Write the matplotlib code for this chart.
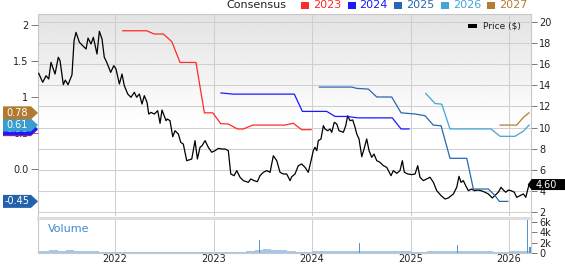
import numpy as np
import matplotlib
matplotlib.use('Agg')
import matplotlib.pyplot as plt
from matplotlib.patches import Polygon, Rectangle
from matplotlib.transforms import IdentityTransform

plt.rcParams['font.family'] = 'DejaVu Sans'

# ---- data (dates as decimal years) ----
price_t = [2021.225, 2021.266, 2021.30, 2021.327, 2021.35, 2021.391, 2021.424, 2021.442, 2021.475, 2021.495,
           2021.523, 2021.563, 2021.584, 2021.604, 2021.638, 2021.672, 2021.706, 2021.726, 2021.756, 2021.78,
           2021.817, 2021.841, 2021.868, 2021.891, 2021.916, 2021.956, 2021.987,
           2022.01, 2022.044, 2022.071, 2022.094, 2022.129, 2022.162, 2022.196, 2022.22, 2022.247, 2022.274,
           2022.297, 2022.325, 2022.342, 2022.365, 2022.399, 2022.433, 2022.457, 2022.477, 2022.518, 2022.531,
           2022.558, 2022.586, 2022.609, 2022.643, 2022.667, 2022.693, 2022.728, 2022.779, 2022.812, 2022.836,
           2022.863, 2022.883, 2022.914, 2022.947, 2022.982,
           2023.015, 2023.049, 2023.083, 2023.117, 2023.15, 2023.175, 2023.208, 2023.236, 2023.269, 2023.303,
           2023.353, 2023.378, 2023.411, 2023.445, 2023.472, 2023.506, 2023.54, 2023.574, 2023.607, 2023.642,
           2023.675, 2023.709, 2023.743, 2023.777, 2023.794, 2023.827, 2023.861, 2023.895, 2023.929, 2023.962,
           2023.99,
           2024.013, 2024.03, 2024.048, 2024.064, 2024.091, 2024.115, 2024.132, 2024.159, 2024.183, 2024.2,
           2024.226, 2024.251, 2024.274, 2024.318, 2024.342, 2024.362, 2024.386, 2024.413, 2024.437, 2024.454,
           2024.477, 2024.505, 2024.528, 2024.555, 2024.579, 2024.606, 2024.629, 2024.657, 2024.69, 2024.724,
           2024.758, 2024.802, 2024.825, 2024.86, 2024.893, 2024.917, 2024.937, 2024.972,
           2025.012, 2025.046, 2025.073, 2025.096, 2025.13, 2025.165, 2025.198, 2025.232, 2025.266, 2025.31,
           2025.35, 2025.384, 2025.435, 2025.469, 2025.492, 2025.513, 2025.536, 2025.56, 2025.587, 2025.621,
           2025.648, 2025.682, 2025.716, 2025.756, 2025.79, 2025.83, 2025.865, 2025.891, 2025.919, 2025.942,
           2025.967, 2025.993,
           2026.02, 2026.054, 2026.078, 2026.112, 2026.146, 2026.17, 2026.203]
price_v = [15.14, 14.29, 14.91, 14.6, 16.18, 15.07, 16.66, 16.33, 14.06, 14.5,
           14.06, 15.0, 18.23, 19.02, 18.08, 17.76, 17.44, 18.48, 17.92, 18.55,
           16.97, 19.12, 18.39, 16.66, 16.18, 15.23, 15.86,
           15.55, 14.13, 15.07, 13.97, 13.18, 12.87, 13.34, 12.87, 13.18, 12.23,
           13.02, 12.39, 11.28, 11.44, 11.28, 11.6, 10.4, 11.66, 10.65, 10.81,
           10.65, 9.13, 9.7, 9.39, 8.6, 8.44, 6.86, 7.02, 8.76, 7.02,
           8.13, 8.28, 8.76, 8.13, 7.66,
           7.81, 8.03, 7.97, 7.97, 7.81, 5.6, 5.44, 5.92, 5.29, 4.97,
           4.81, 5.13, 4.97, 4.87, 5.44, 5.76, 5.92, 5.76, 7.33, 6.86,
           5.76, 5.6, 5.6, 4.97, 5.34, 5.6, 6.39, 6.55, 6.23, 5.76,
           6.86,
           7.81, 8.13, 7.81, 8.76, 8.92, 10.18, 9.86, 9.7, 9.86, 9.55,
           10.5, 10.34, 9.7, 9.55, 10.18, 11.12, 10.65, 10.72, 10.02, 9.39,
           8.92, 7.24, 7.97, 8.92, 7.81, 7.18, 7.49, 6.86, 6.71, 6.39,
           6.23, 5.44, 5.92, 5.66, 5.92, 6.86, 5.76, 5.6,
           5.54, 5.6, 6.39, 5.29, 4.97, 5.13, 5.29, 4.81, 4.02, 3.55,
           3.23, 3.33, 3.71, 4.34, 5.38, 4.81, 4.97, 4.49, 4.02, 4.18,
           4.02, 4.08, 4.02, 3.87, 3.71, 3.33, 3.64, 3.87, 4.34, 4.08,
           3.87, 4.08,
           4.02, 3.87, 3.39, 3.55, 3.71, 3.39, 4.6]

c2023_t = [2022.078, 2022.322, 2022.396, 2022.49, 2022.576, 2022.66, 2022.822, 2022.907, 2022.992,
           2023.073, 2023.15, 2023.242, 2023.303, 2023.398, 2023.726, 2023.81, 2023.895, 2023.99]
c2023_v = [1.92, 1.92, 1.875, 1.875, 1.77, 1.48, 1.48, 0.78, 0.78,
           0.63, 0.625, 0.556, 0.556, 0.61, 0.61, 0.635, 0.546, 0.546]
c2024_t = [2023.076, 2023.201, 2023.82, 2023.902, 2024.149, 2024.234, 2024.352, 2024.47, 2024.815,
           2024.904, 2024.985]
c2024_v = [1.056, 1.04, 1.04, 0.80, 0.80, 0.73, 0.73, 0.71, 0.71, 0.556, 0.556]
c2025_t = [2024.074, 2024.403, 2024.454, 2024.572, 2024.657, 2024.809, 2024.904, 2025.046, 2025.147,
           2025.231, 2025.31, 2025.401, 2025.571, 2025.638, 2025.79, 2025.858, 2025.901, 2025.987]
c2025_v = [1.138, 1.138, 1.12, 1.11, 1.0, 1.0, 0.78, 0.764, 0.74,
           0.61, 0.60, 0.148, 0.148, -0.278, -0.278, -0.37, -0.45, -0.45]
c2026_t = [2025.154, 2025.249, 2025.317, 2025.401, 2025.817, 2025.909, 2026.061, 2026.145, 2026.203]
c2026_v = [1.05, 0.91, 0.90, 0.556, 0.556, 0.454, 0.454, 0.524, 0.61]
c2027_t = [2025.909, 2026.078, 2026.146, 2026.203]
c2027_v = [0.61, 0.61, 0.718, 0.78]

# monthly volume, Mar 2021 .. Mar 2026, plus the few big days
vol_month_v = [300, 450, 500, 450, 500, 400, 350, 300, 250, 250,
               200, 150, 150, 150, 200, 150, 150, 200, 200, 150, 150, 150,
               250, 250, 200, 200, 300, 500, 700, 600, 500, 350, 250, 200,
               300, 350, 450, 400, 400, 350, 400, 350, 300, 300, 350, 300,
               250, 250, 300, 300, 400, 350, 400, 450, 350, 300, 250, 250,
               300, 350, 400]
vol_spike_t = [2023.465, 2024.48, 2025.479, 2026.19, 2026.213]
vol_spike_v = [2600, 2000, 1600, 6400, 1100]

years = [2022, 2023, 2024, 2025, 2026]
series = [('2023', c2023_t, c2023_v, '#ff2a2a'),
          ('2024', c2024_t, c2024_v, '#1a1aff'),
          ('2025', c2025_t, c2025_v, '#2a67b3'),
          ('2026', c2026_t, c2026_v, '#42a5d5'),
          ('2027', c2027_t, c2027_v, '#b47c30')]

# ---- figure ----
W, H = 565, 264
fig = plt.figure(figsize=(W / 100, H / 100), dpi=100)


def box(x0, x1, ytop, ybot):
    return [x0 / W, 1 - ybot / H, (x1 - x0) / W, (ybot - ytop) / H]


ax = fig.add_axes(box(38, 531, 14, 216))
axv = fig.add_axes(box(38, 531, 218, 253), sharex=ax)
ax_e = ax.twinx()

grad = np.linspace(0, 1, 200).reshape(-1, 1)
shade = 1 - 0.11 * np.clip((grad - 0.45) / 0.55, 0, 1)
ax.imshow(shade, cmap='gray', vmin=0, vmax=1, aspect='auto', extent=[0, 1, 0, 1],
          transform=ax.transAxes, origin='lower', zorder=0, interpolation='bilinear')

ax.plot(price_t, price_v, color='black', lw=0.9, zorder=3)
for name, t, v, col in series:
    ax_e.plot(t, v, color=col, lw=0.9)

ax.set_xlim(2021.218, 2026.223)
ax.set_ylim(1.62, 20.76)
ax_e.set_ylim(-0.653, 2.153)
ax.set_axisbelow(True)
ax.set_xticks(years)
ax.set_yticks(range(2, 21, 2))
ax.grid(True, color='#cfcfcf', lw=0.75)
ax.yaxis.tick_right()
ax.tick_params(axis='y', length=4, width=0.7, color='#777', labelsize=7, pad=2, labelcolor='#222')
ax.tick_params(axis='x', length=0, labelbottom=False)
for sp in ax.spines.values():
    sp.set_color('#c8c8c8')
ax.spines['bottom'].set_visible(False)

ax_e.yaxis.tick_left()
ax_e.set_yticks([0, 0.5, 1, 1.5, 2])
ax_e.set_yticklabels(['0.0', '0.5', '1', '1.5', '2'])
ax_e.tick_params(axis='y', length=5, width=0.7, color='#777', labelsize=7, pad=2, labelcolor='#222')
for sp in ax_e.spines.values():
    sp.set_visible(False)

# volume panel
vol_month_t = 2021 + (2.5 + np.arange(len(vol_month_v))) / 12
axv.bar(vol_month_t, vol_month_v, width=1 / 12, color='#a3c8ea', lw=0)
axv.bar(vol_spike_t, vol_spike_v, width=0.012, color='#5595d0', lw=0)
axv.set_ylim(0, 6800)
axv.set_axisbelow(True)
axv.grid(True, axis='x', color='#cfcfcf', lw=0.75)
axv.yaxis.tick_right()
axv.set_yticks([0, 2000, 4000, 6000])
axv.set_yticklabels(['0', '2k', '4k', '6k'])
axv.tick_params(axis='y', length=4, width=0.7, color='#777', labelsize=7, pad=2, labelcolor='#222')
axv.set_xticks(years)
axv.set_xticklabels([str(y) for y in years])
axv.tick_params(axis='x', length=0, labelsize=7, pad=1, labelcolor='#222')
for sp in axv.spines.values():
    sp.set_color('#c8c8c8')
axv.spines['top'].set_color('#dddddd')
axv.spines['top'].set_linewidth(2.2)
fig.text(48.3 / W, 1 - 229 / H, 'Volume', color='#3d8bd0', fontsize=8, va='center')

# last-value tags on the left, each one drawn over the previous
ident = IdentityTransform()
tag_colors = {'2025': '#2361ad', '2026': '#3a9dcf', '2027': '#b07a30'}
for i, (name, t, v, col) in enumerate(series):
    y = ax_e.transData.transform((t[-1], v[-1]))[1]
    fig.add_artist(Polygon([(3, y - 6.5), (31, y - 6.5), (38, y), (31, y + 6.5), (3, y + 6.5)],
                           closed=True, transform=ident, facecolor=tag_colors.get(name, col),
                           edgecolor='none', zorder=10 + 2 * i))
    fig.text(17.5 / W, y / H, f'{v[-1]:.2f}', color='white', fontsize=7, ha='center', va='center',
             zorder=11 + 2 * i)

# last price tag on the right
yp = ax.transData.transform((price_t[-1], price_v[-1]))[1]
fig.add_artist(Polygon([(527.7, yp), (531.7, yp + 5.5), (W, yp + 5.5), (W, yp - 5.5), (531.7, yp - 5.5)],
                       closed=True, transform=ident, facecolor='black', edgecolor='none', zorder=20))
fig.text(546 / W, yp / H, f'{price_v[-1]:.2f}', color='white', fontsize=7, ha='center', va='center',
         zorder=21)

# legends
fig.text(226.7 / W, 1 - 5.5 / H, 'Consensus', fontsize=8, va='center', color='#222')
for i, (name, t, v, col) in enumerate(series):
    sx = 301 + i * 46.6
    fig.add_artist(Rectangle((sx, H - 9.3), 8, 7.3, transform=ident, facecolor=col, edgecolor='none'))
    fig.text((sx + 12) / W, 1 - 5.5 / H, name, color=col, fontsize=8, va='center')

fig.add_artist(Rectangle((467.7, H - 27.5), 9, 3.5, transform=ident, facecolor='black', edgecolor='none'))
fig.text(482.7 / W, 1 - 26 / H, 'Price ($)', fontsize=6.5, va='center', color='#222')

fig.savefig('out.png', dpi=100)
